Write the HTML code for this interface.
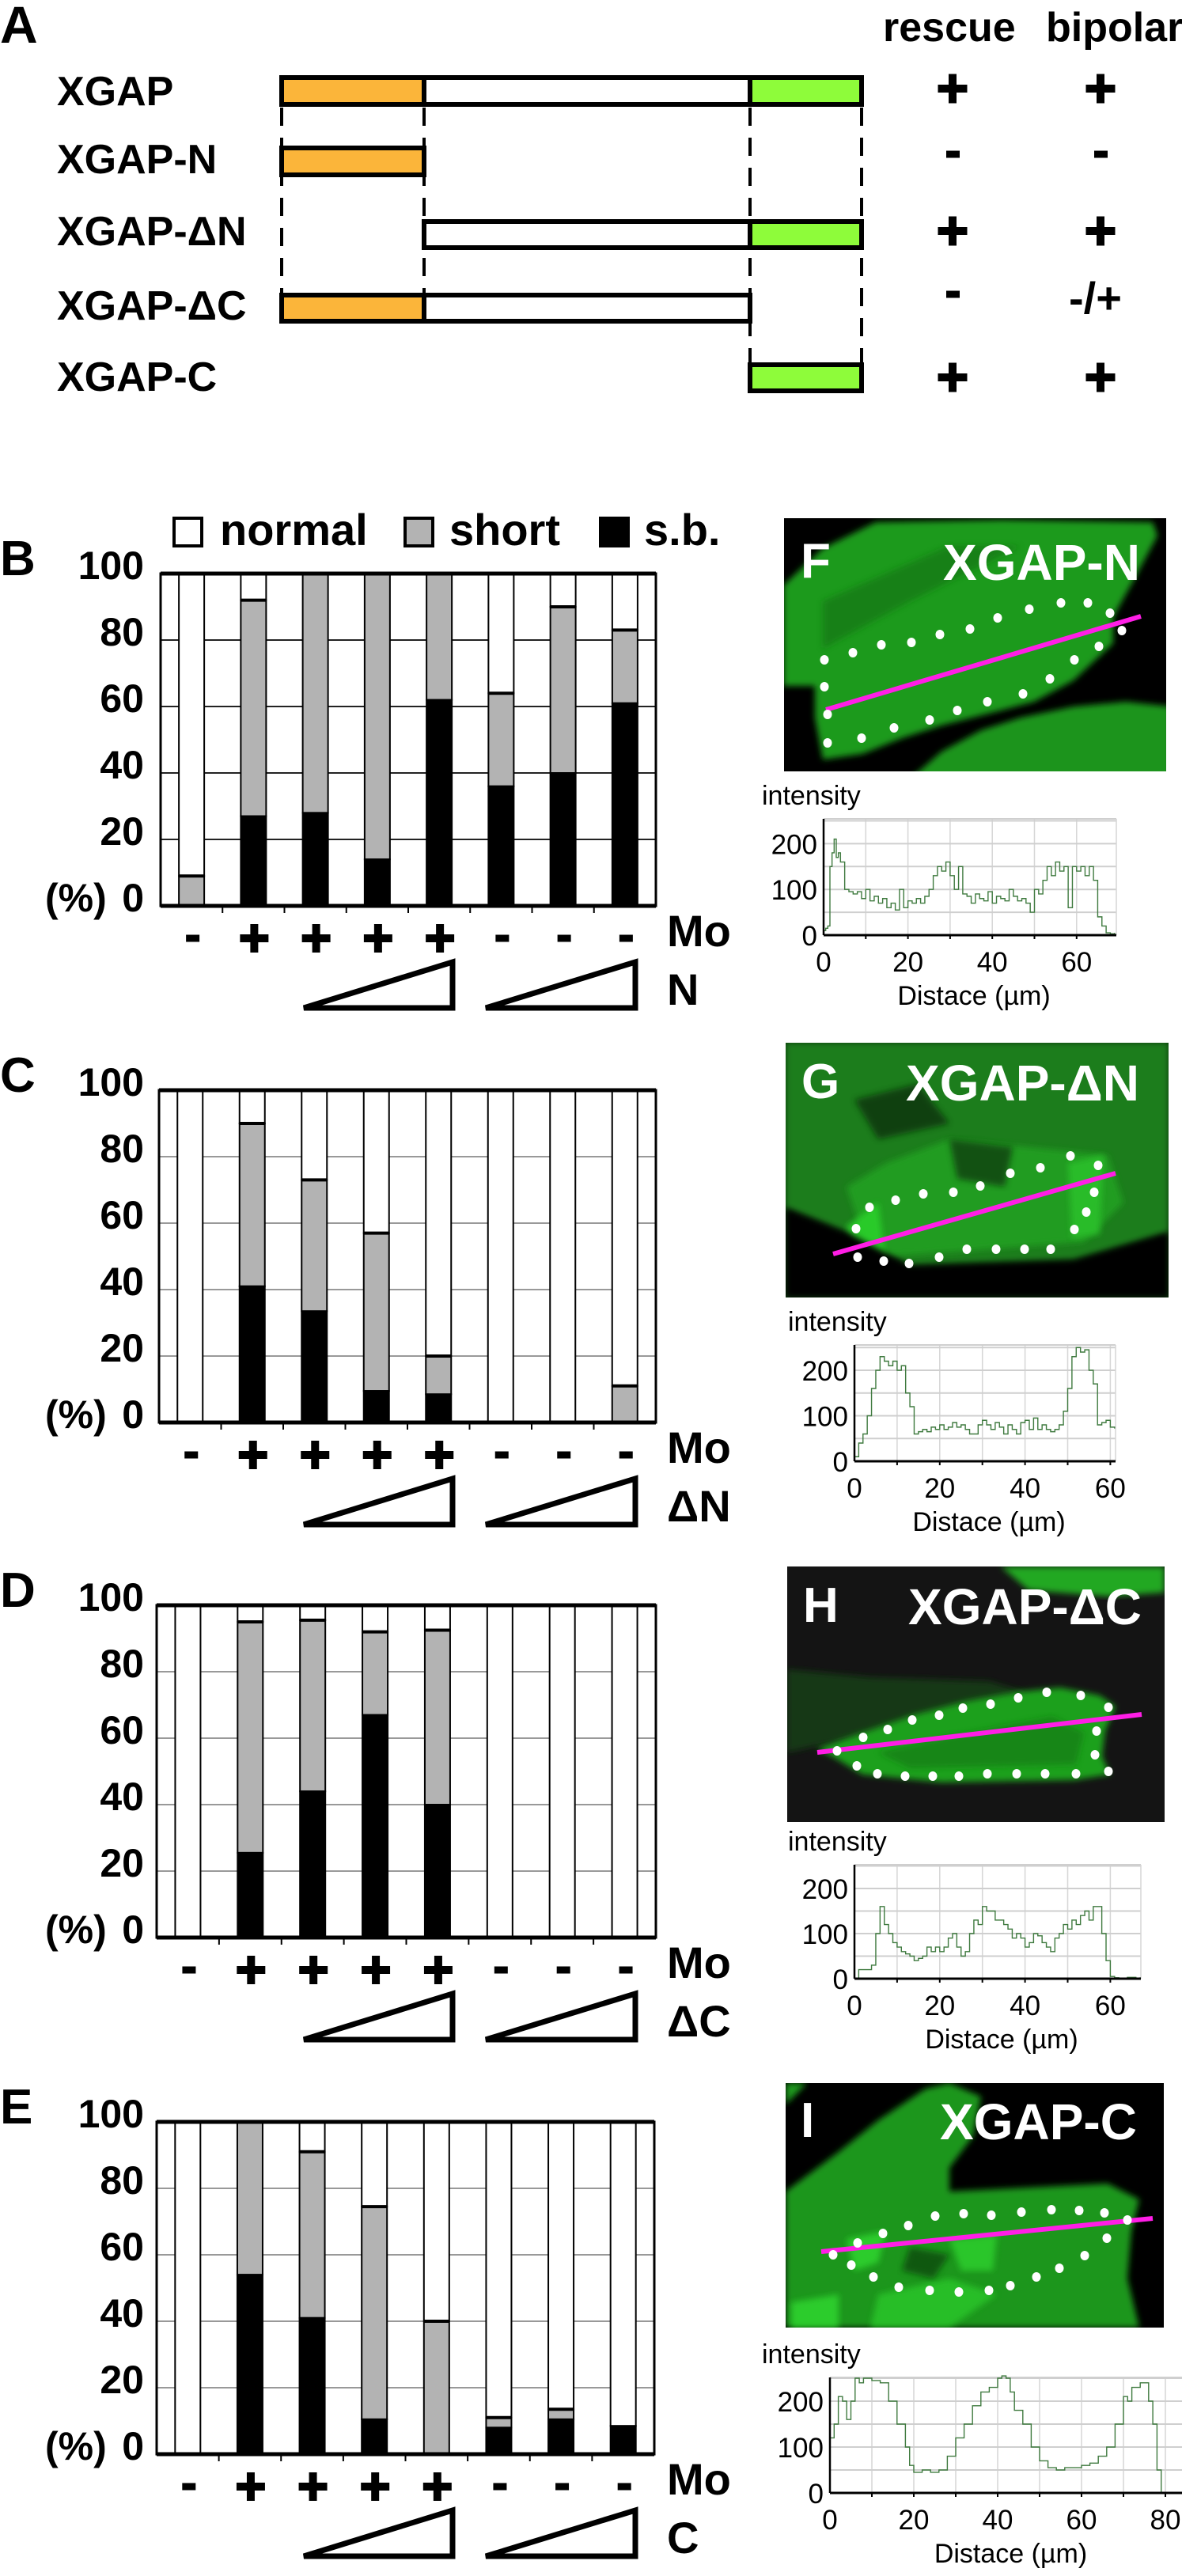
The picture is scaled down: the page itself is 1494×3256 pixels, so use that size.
<!DOCTYPE html>
<html><head><meta charset="utf-8"><style>
html,body{margin:0;padding:0;background:#fff;}
svg{display:block;}
text{font-family:"Liberation Sans",Arial,sans-serif;}
.b{font-weight:bold;}
</style></head>
<body>
<svg id="fig" width="1494" height="3256" viewBox="0 0 1494 3256" xmlns="http://www.w3.org/2000/svg">
<defs>
<filter id="soft" x="-10%" y="-10%" width="120%" height="120%"><feGaussianBlur stdDeviation="4"/></filter>
<clipPath id="clipF"><rect x="991" y="655" width="483" height="320"/></clipPath>
<clipPath id="clipG"><rect x="993" y="1318" width="484" height="322"/></clipPath>
<clipPath id="clipH"><rect x="995" y="1980" width="477" height="323"/></clipPath>
<clipPath id="clipI"><rect x="993" y="2633" width="478" height="309"/></clipPath>
</defs>

<!-- Panel A -->
<g>
<text class="b" x="0" y="54" font-size="66">A</text>
<text class="b" x="1116" y="52" font-size="52">rescue</text>
<text class="b" x="1322" y="52" font-size="52">bipolar</text>
<g font-size="52" class="b">
<text class="b" x="72" y="133">XGAP</text>
<text class="b" x="72" y="219">XGAP-N</text>
<text class="b" x="72" y="310">XGAP-ΔN</text>
<text class="b" x="72" y="404">XGAP-ΔC</text>
<text class="b" x="72" y="494">XGAP-C</text>
</g>
<g stroke="#000" stroke-width="4" stroke-dasharray="23 15">
<line x1="356" y1="136" x2="356" y2="370"/>
<line x1="536" y1="136" x2="536" y2="370"/>
<line x1="948" y1="136" x2="948" y2="458"/>
<line x1="1089" y1="136" x2="1089" y2="458"/>
</g>
<g stroke="#000" stroke-width="6">
<rect x="356" y="98" width="180" height="34" fill="#fbb53a"/>
<rect x="536" y="98" width="412" height="34" fill="#fff"/>
<rect x="948" y="98" width="141" height="34" fill="#8efc3a"/>
<rect x="356" y="187" width="180" height="34" fill="#fbb53a"/>
<rect x="536" y="280" width="412" height="33" fill="#fff"/>
<rect x="948" y="280" width="141" height="33" fill="#8efc3a"/>
<rect x="356" y="373" width="180" height="33" fill="#fbb53a"/>
<rect x="536" y="373" width="412" height="33" fill="#fff"/>
<rect x="948" y="461" width="141" height="33" fill="#8efc3a"/>
</g>
<g id="signsA"></g>
<text class="b" x="1351" y="396" font-size="56">-/+</text>
</g>

<!-- Legend -->
<g>
<rect x="220" y="655" width="35" height="35" fill="#fff" stroke="#000" stroke-width="4"/>
<text class="b" x="278" y="689" font-size="56">normal</text>
<rect x="512" y="655" width="35" height="35" fill="#b3b3b3" stroke="#000" stroke-width="4"/>
<text class="b" x="568" y="689" font-size="56">short</text>
<rect x="759" y="655" width="35" height="35" fill="#000" stroke="#000" stroke-width="4"/>
<text class="b" x="814" y="689" font-size="56">s.b.</text>
</g>

<g id="charts"></g>
<g id="images"></g>
<g id="profiles"></g>
</svg>

<script>
// ---- Bar chart data (percent) ----
const categories = ["1","2","3","4","5","6","7","8"];
const moSigns = ["-","+","+","+","+","-","-","-"];
const yTicks = [0,20,40,60,80,100];
const sbB = [0,27,28,14,62,36,40,61];
const shortB = [9,65,72,86,38,28,50,22];
const sbC = [0,41,33.5,9.5,8.5,0,0,0];
const shortC = [0,49,39.5,47.5,11.5,0,0,11];
const sbD = [0,25.5,44,67,40,0,0,0];
const shortD = [0,69.5,51.5,25,52.5,0,0,0];
const sbE = [0,54,41,10.5,0,8,10.5,8.5];
const shortE = [0,46,50,64,40,3,3,0];

// ---- Intensity profile data ----
const distF = [0,0.5,1,1.5,2,2.5,3,3.5,4,5,6,7,8,9,10,11,12,13,14,15,16,17,18,19,20,21,22,23,24,25,26,27,28,29,30,31,32,33,34,35,36,37,38,39,40,41,42,43,44,45,46,47,48,49,50,51,52,53,54,55,56,57,58,59,60,61,62,63,64,65,66,67,68,69];
const intF = [10,15,20,150,180,210,170,180,160,100,95,90,95,80,100,75,85,70,80,60,70,55,100,60,75,70,80,70,85,100,130,150,140,160,130,100,150,90,85,70,90,80,75,95,70,85,80,75,100,85,75,80,70,50,100,90,120,150,130,160,140,150,60,150,140,150,130,150,120,40,20,5,3,5];
const distG = [0,1,2,3,4,5,6,7,8,9,10,11,12,13,14,15,16,17,18,19,20,21,22,23,24,25,26,27,28,29,30,31,32,33,34,35,36,37,38,39,40,41,42,43,44,45,46,47,48,49,50,51,52,53,54,55,56,57,58,59,60,61];
const intG = [10,40,60,100,160,200,230,220,210,220,200,210,150,120,60,65,70,65,75,70,80,70,75,85,75,80,70,60,60,80,90,80,70,85,75,60,80,70,60,85,90,70,95,70,80,70,65,70,80,110,160,230,250,240,245,200,170,80,85,90,75,72];
const distH = [0,1,2,3,4,5,6,7,8,9,10,11,12,13,14,15,16,17,18,19,20,21,22,23,24,25,26,27,28,29,30,31,32,33,34,35,36,37,38,39,40,41,42,43,44,45,46,47,48,49,50,51,52,53,54,55,56,57,58,59,60,61,62,64,66,67];
const intH = [0,20,20,20,30,100,160,120,100,80,70,60,55,50,40,45,50,70,60,70,60,70,90,100,70,50,60,100,130,120,160,150,150,130,130,120,110,90,100,90,70,80,100,95,80,70,60,90,100,120,110,130,120,140,150,130,160,160,100,40,5,2,0,3,0,3];
const distI = [0,1,2,3,4,5,6,7,8,10,12,14,16,18,19,20,22,24,26,28,30,32,34,36,38,40,41,42,43,44,46,48,50,52,54,56,58,60,62,64,66,68,70,71,72,74,76,77,78,79,80,82];
const intI = [120,150,210,200,160,200,250,240,250,245,240,200,150,100,60,45,50,45,50,80,120,150,190,220,230,250,255,250,220,180,150,100,70,55,50,55,55,60,65,80,100,150,210,200,230,240,200,150,50,0,0,2];
const xTicksF = [0,20,40,60];
const xTicksI = [0,20,40,60,80];
const yTicksProfile = [0,100,200];

const NS = "http://www.w3.org/2000/svg";
function mk(tag, attrs, parent){
  const e = document.createElementNS(NS, tag);
  for (const k in attrs) e.setAttribute(k, attrs[k]);
  parent.appendChild(e);
  return e;
}

// Plus/minus sign drawers
function drawSign(g, s, cx, cy, size){
  if (s === "+") {
    const a = mk("rect", {x: cx - size/2, y: cy - 5, width: size, height: 10, fill: "#000"}, g);
    
    
    const b = mk("rect", {x: cx - 5, y: cy - size/2, width: 10, height: size, fill: "#000"}, g);
    
    
  } else {
    const m = mk("rect", {x: cx - 8, y: cy - 4.5, width: 17, height: 9, fill: "#000"}, g);
    
    
  }
}

// Panel A signs
(function(){
  const g = document.getElementById("signsA");
  const rescue = ["+","-","+","-","+"];
  const bipolar = ["+","-","+",null,"+"];
  const rows = [112,195,292,372,477];
  for (let i=0;i<rows.length;i++){
    drawSign(g, rescue[i], 1204, rows[i], 37);
    if (bipolar[i]) drawSign(g, bipolar[i], 1391, rows[i], 37);
  }
})();

// Bar charts
const panels = [
  {letter:"B", top:725, left:203, right:829, sb:sbB, sh:shortB, lbl:"N", grid:"#222"},
  {letter:"C", top:1378, left:201, right:829, sb:sbC, sh:shortC, lbl:"ΔN", grid:"#999"},
  {letter:"D", top:2029, left:198, right:829, sb:sbD, sh:shortD, lbl:"ΔC", grid:"#999"},
  {letter:"E", top:2682, left:198, right:827, sb:sbE, sh:shortE, lbl:"C", grid:"#999"}
];
const charts = document.getElementById("charts");
panels.forEach(p => {
  const H = 420;
  const g = mk("g", {}, charts);
  
  
  const y = v => p.top + H - v / 100 * H;
  const slot = (p.right - p.left) / categories.length;
  const xc = i => p.left + (i + 0.5) * slot;
  const L = mk("text", {x: 0, y: p.top + 2, "font-size": 62, "font-weight": "bold"}, g);
  L.textContent = p.letter;
  
  
  mk("rect", {x: p.left, y: p.top, width: p.right - p.left, height: H, fill: "#fff"}, g);
  yTicks.forEach(t => {
    if (t > 0 && t < 100) {
      const gl = mk("line", {x1: p.left, x2: p.right, y1: y(t), y2: y(t), stroke: p.grid, "stroke-width": 2}, g);
      
      
    }
    const tl = mk("text", {x: 182, y: y(t) + 7, "font-size": 50, "font-weight": "bold", "text-anchor": "end"}, g);
    tl.textContent = String(t);
    
    
  });
  const pc = mk("text", {x: 57, y: y(0) + 7, "font-size": 50, "font-weight": "bold"}, g);
  pc.textContent = "(%)";
  
  
  const bw = 32;
  categories.forEach((c, i) => {
    const sb = p.sb[i], sh = p.sh[i];
    const x0 = xc(i) - bw / 2;
    const n = mk("rect", {x: x0, y: y(100), width: bw, height: y(sb + sh) - y(100), fill: "#fff", stroke: "#000", "stroke-width": 2}, g);
    
    
    if (sh > 0) {
      const s = mk("rect", {x: x0, y: y(sb + sh), width: bw, height: y(sb) - y(sb + sh), fill: "#b3b3b3", stroke: "#000", "stroke-width": 2}, g);
      
      
      mk("line", {x1: x0, x2: x0 + bw, y1: y(sb + sh), y2: y(sb + sh), stroke: "#000", "stroke-width": 4}, g);
    }
    if (sb > 0) {
      const b = mk("rect", {x: x0, y: y(sb), width: bw, height: y(0) - y(sb), fill: "#000", stroke: "#000", "stroke-width": 2}, g);
      
      
    }
    drawSign(g, moSigns[i], xc(i) + 1, p.top + 461, 36);
    if (i > 0) mk("line", {x1: p.left + i * slot, x2: p.left + i * slot, y1: y(0), y2: y(0) + 9, stroke: "#000", "stroke-width": 2}, g);
  });
  const fr = mk("rect", {x: p.left, y: p.top, width: p.right - p.left, height: H, fill: "none", stroke: "#000", "stroke-width": 3}, g);
  
  
  mk("line", {x1: p.left, x2: p.right, y1: p.top, y2: p.top, stroke: "#000", "stroke-width": 5}, g);
  mk("line", {x1: p.left, x2: p.right, y1: y(0), y2: y(0), stroke: "#000", "stroke-width": 5}, g);
  const mo = mk("text", {x: 843, y: p.top + 471, "font-size": 56, "font-weight": "bold"}, g);
  mo.textContent = "Mo";
  
  
  [[384, 572], [614, 803]].forEach(([a, b]) => {
    const t = mk("polygon", {points: `${a},${p.top+549} ${b},${p.top+549} ${b},${p.top+491}`, fill: "#fff", stroke: "#000", "stroke-width": 7, "stroke-linejoin": "miter"}, g);
    
    
  });
  const cl = mk("text", {x: 843, y: p.top + 545, "font-size": 56, "font-weight": "bold"}, g);
  cl.textContent = p.lbl;
  
  
});

// Micrograph images
const imgs = document.getElementById("images");
function poly(g, pts, fill, op){
  const e = mk("polygon", {points: pts, fill: fill, opacity: op || 1, filter: "url(#soft)"}, g);
  return e;
}
const imageDefs = [
  {id:"F", x:991, y:655, w:483, h:320, bg:"#000", title:"XGAP-N", lx:1012, ly:730, tx:1192,
   shapes:[["990,740 1040,693 1107,660 1267,657 1457,660 1463,677 1433,733 1407,780 1407,813 1357,860 1307,887 1257,900 1190,917 1140,933 1090,953 1040,960 1030,907 1030,867 990,867","#1f9a1f",1],
           ["1150,985 1190,950 1240,923 1290,907 1357,893 1423,887 1480,893 1480,985","#1d941d",1],
           ["1040,760 1200,690 1290,690 1150,760 1040,820","#157a15",0.8]],
   line:[1044,897,1442,779],
   dots:[[1042,834],[1042,868],[1046,903],[1046,939],[1089,933],[1130,920],[1175,910],[1210,898],[1248,887],[1293,877],[1327,858],[1358,834],[1389,817],[1418,797],[1403,775],[1375,762],[1341,762],[1301,770],[1261,781],[1226,795],[1188,802],[1152,812],[1114,815],[1078,825]]},
  {id:"G", x:993, y:1318, w:484, h:322, bg:"#0d3a0d", title:"XGAP-ΔN", lx:1013, ly:1388, tx:1145,
   shapes:[["993,1318 1477,1318 1477,1560 1357,1593 1150,1600 1075,1560 993,1527","#1b7d1b",1],
           ["1070,1500 1120,1470 1200,1440 1300,1450 1400,1460 1420,1520 1370,1570 1100,1590","#22a022",0.9],
           ["1070,1550 1110,1520 1120,1600 1080,1600","#2bd02b",0.9],
           ["1350,1470 1395,1460 1390,1560 1355,1565","#29c029",0.9],
           ["1080,1390 1160,1370 1200,1420 1110,1440","#0a300a",0.8],
           ["1200,1440 1280,1450 1270,1500 1210,1490","#0a300a",0.7],
           ["993,1527 1075,1560 1150,1600 1357,1593 1477,1557 1477,1640 993,1640","#000",1]],
   line:[1053,1585,1410,1483],
   dots:[[1084,1589],[1117,1594],[1149,1597],[1187,1589],[1222,1579],[1259,1579],[1295,1579],[1328,1579],[1358,1554],[1373,1532],[1383,1507],[1388,1473],[1353,1461],[1315,1476],[1277,1483],[1239,1499],[1205,1507],[1167,1509],[1132,1517],[1099,1526],[1082,1553]]},
  {id:"H", x:995, y:1980, w:477, h:323, bg:"#141414", title:"XGAP-ΔC", lx:1015, ly:2050, tx:1148,
   shapes:[["995,2110 1100,2120 1250,2125 1300,2140 1200,2170 995,2215","#123812",1],
           ["1033,2210 1090,2190 1157,2167 1223,2150 1290,2138 1340,2133 1390,2143 1410,2157 1397,2187 1393,2220 1403,2243 1357,2250 1190,2253 1090,2243 1057,2223","#1fa01f",1],
           ["1110,2215 1200,2195 1330,2170 1370,2190 1360,2230 1150,2235","#168016",0.8],
           ["1265,1980 1472,1980 1472,2013 1400,2018 1300,2010","#22a822",1]],
   line:[1033,2215,1443,2167],
   dots:[[1058,2213],[1083,2232],[1109,2242],[1144,2245],[1179,2245],[1212,2245],[1248,2242],[1285,2242],[1321,2242],[1360,2242],[1401,2239],[1384,2218],[1386,2188],[1401,2158],[1366,2143],[1323,2139],[1287,2146],[1252,2154],[1217,2159],[1187,2168],[1153,2174],[1122,2186],[1091,2196]]},
  {id:"I", x:993, y:2633, w:478, h:309, bg:"#000", title:"XGAP-C", lx:1012, ly:2701, tx:1188,
   shapes:[["993,2633 1020,2633 993,2660","#1f9a1f",1],
           ["993,2770 1060,2720 1110,2680 1170,2640 1200,2633 1240,2650 1230,2700 1200,2740 1200,2770 1400,2760 1440,2780 1430,2820 1425,2880 1440,2942 993,2942","#1e961e",1],
           ["1070,2830 1120,2820 1110,2860 1080,2870","#2ed22e",0.9],
           ["1200,2830 1260,2825 1255,2870 1215,2870","#2ed22e",0.8],
           ["1110,2900 1200,2880 1260,2900 1200,2942 1100,2942","#2bc82b",0.8],
           ["1000,2910 1060,2900 1060,2942 1000,2942","#2ed22e",0.9],
           ["1150,2840 1200,2850 1180,2880 1140,2870","#0c4a0c",0.8]],
   line:[1038,2846,1457,2804],
   dots:[[1053,2850],[1076,2863],[1104,2878],[1136,2891],[1175,2895],[1212,2897],[1250,2895],[1277,2889],[1310,2878],[1339,2867],[1371,2851],[1399,2829],[1425,2806],[1396,2797],[1364,2794],[1329,2793],[1291,2796],[1253,2800],[1218,2798],[1182,2801],[1148,2813],[1116,2823],[1084,2835]]}
];
imageDefs.forEach(d => {
  const g = mk("g", {"clip-path": "url(#clip" + d.id + ")"}, imgs);
  
  
  mk("rect", {x: d.x, y: d.y, width: d.w, height: d.h, fill: d.bg}, g);
  d.shapes.forEach(s => poly(g, s[0], s[1], s[2]));
  const ln = mk("line", {x1: d.line[0], y1: d.line[1], x2: d.line[2], y2: d.line[3], stroke: "#ff1ee6", "stroke-width": 6}, g);
  
  
  d.dots.forEach(pt => {
    const c = mk("ellipse", {cx: pt[0], cy: pt[1], rx: 5.5, ry: 6, fill: "#fff"}, g);
    
    
  });
  const l = mk("text", {x: d.lx, y: d.ly, "font-size": 62, "font-weight": "bold", fill: "#fff"}, g);
  l.textContent = d.id;
  
  
  const t = mk("text", {x: d.tx, y: d.ly + 3, "font-size": 64, "font-weight": "bold", fill: "#fff"}, g);
  t.textContent = d.title;
  
  
});

// Intensity profiles
const profG = document.getElementById("profiles");
const profDefs = [
  {dist: distF, inten: intF, left: 1041, right: 1411, zero: 1182, top: 1035, xpu: 5.33, ypu: 0.578, xt: xTicksF, labelX: 963},
  {dist: distG, inten: intG, left: 1080, right: 1410, zero: 1847, top: 1700, xpu: 5.39, ypu: 0.575, xt: xTicksF, labelX: 996},
  {dist: distH, inten: intH, left: 1080, right: 1442, zero: 2501, top: 2357, xpu: 5.39, ypu: 0.57, xt: xTicksF, labelX: 996},
  {dist: distI, inten: intI, left: 1049, right: 1496, zero: 3151, top: 3005, xpu: 5.3, ypu: 0.58, xt: xTicksI, labelX: 963}
];
profDefs.forEach((p, k) => {
  const g = mk("g", {}, profG);
  
  
  const X = v => p.left + v * p.xpu;
  const Y = v => p.zero - v * p.ypu;
  mk("rect", {x: p.left, y: p.top, width: p.right - p.left, height: p.zero - p.top, fill: "#fff"}, g);
  for (let v = 10; X(v) <= p.right + 1; v += 10) {
    mk("line", {x1: X(v), x2: X(v), y1: p.top, y2: p.zero, stroke: "#d6d6d6", "stroke-width": 1.5}, g);
    mk("line", {x1: X(v), x2: X(v), y1: p.zero, y2: p.zero + 5, stroke: "#000", "stroke-width": 2}, g);
  }
  for (let v = 50; Y(v) >= p.top - 1; v += 50) {
    mk("line", {x1: p.left, x2: p.right, y1: Y(v), y2: Y(v), stroke: "#cfcfcf", "stroke-width": 2}, g);
  }
  mk("line", {x1: p.left, x2: p.right, y1: p.top, y2: p.top, stroke: "#cfcfcf", "stroke-width": 2}, g);
  mk("line", {x1: p.right, x2: p.right, y1: p.top, y2: p.zero, stroke: "#d6d6d6", "stroke-width": 1.5}, g);
  let d = "";
  for (let i = 0; i < p.dist.length; i++) {
    const x = X(p.dist[i]), y = Y(p.inten[i]);
    if (i === 0) d += `M${x},${y}`;
    else d += `H${x}V${y}`;
  }
  const path = mk("path", {d: d, fill: "none", stroke: "#3f7a3f", "stroke-width": 1.4}, g);
  
  
  mk("line", {x1: p.left, x2: p.left, y1: p.top, y2: p.zero, stroke: "#000", "stroke-width": 2.5}, g);
  mk("line", {x1: p.left, x2: p.right, y1: p.zero, y2: p.zero, stroke: "#000", "stroke-width": 3}, g);
  p.xt.forEach(v => {
    const t = mk("text", {x: X(v), y: p.zero + 46, "font-size": 35, "text-anchor": "middle"}, g);
    t.textContent = String(v);
    
    
  });
  yTicksProfile.forEach(v => {
    const t = mk("text", {x: p.left - 8, y: Y(v) + 13, "font-size": 35, "text-anchor": "end"}, g);
    t.textContent = String(v);
    
    
  });
  const it = mk("text", {x: p.labelX, y: p.top - 18, "font-size": 34}, g);
  it.textContent = "intensity";
  
  
  const xt = mk("text", {x: (p.left + p.right) / 2 + 5, y: p.zero + 88, "font-size": 34, "text-anchor": "middle"}, g);
  xt.textContent = "Distace (µm)";
  
  
});
</script>
</body></html>
